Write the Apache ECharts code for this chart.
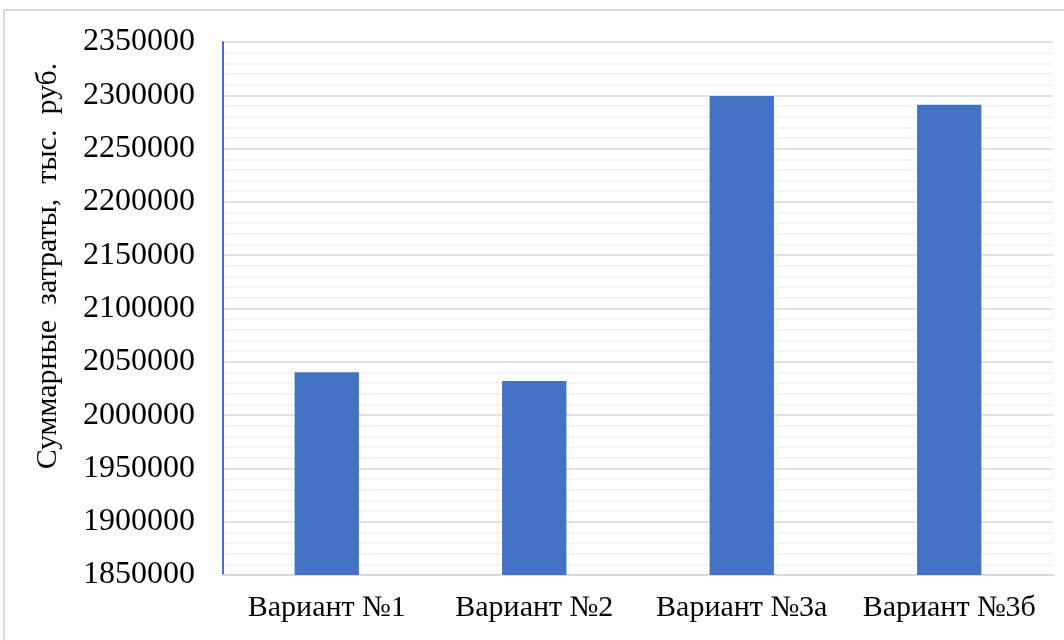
<!DOCTYPE html>
<html>
<head>
<meta charset="utf-8">
<script src="https://cdn.jsdelivr.net/npm/echarts@6/dist/echarts.min.js"></script>
<style>
  html, body { margin: 0; padding: 0; background: #fff; }
  #chart { width: 1064px; height: 640px; }
</style>
</head>
<body>
<div id="chart"></div>
<script>
// варианты и суммарные затраты
const categories = ['Вариант №1', 'Вариант №2', 'Вариант №3а', 'Вариант №3б'];
const costs = [2040300, 2031900, 2299300, 2291200];
const yMin = 1850000;
const yMax = 2350000;
const yStep = 50000;

const font = '"Liberation Serif", "Times New Roman", serif';

const chart = echarts.init(document.getElementById('chart'));

const option = {
  backgroundColor: '#fff',
  animation: false,
  graphic: [
    {
      type: 'rect',
      shape: { x: 4, y: 10, width: 1200, height: 800 },
      style: { fill: 'none', stroke: '#d9d9d9', lineWidth: 2 }
    }
  ],
  grid: {
    left: 223,
    right: 11,
    top: 42,
    bottom: 65
  },
  xAxis: {
    type: 'category',
    data: categories,
    axisLine: { show: true, lineStyle: { color: '#d9d9d9', width: 2 } },
    axisTick: { show: false },
    axisLabel: {
      interval: 0,
      color: '#000',
      fontFamily: font,
      fontSize: 30,
      margin: 18
    }
  },
  yAxis: {
    type: 'value',
    min: yMin,
    max: yMax,
    interval: yStep,
    name: 'Суммарные  затраты,  тыс.  руб.',
    nameLocation: 'middle',
    nameRotate: 90,
    nameGap: 160,
    nameTextStyle: {
      color: '#000',
      fontFamily: font,
      fontSize: 30,
      padding: [0, 0, 0, 85]
    },
    axisLine: { show: true, lineStyle: { color: '#4472C4', width: 2 } },
    axisTick: { show: false },
    axisLabel: {
      color: '#000',
      fontFamily: font,
      fontSize: 32,
      margin: 28,
      formatter: v => String(v)
    },
    splitLine: { lineStyle: { color: '#d9d9d9', width: 1.5 } },
    minorTick: { show: false, splitNumber: 5 },
    minorSplitLine: { show: true, lineStyle: { color: '#f2f2f2', width: 1.5 } }
  },
  series: [
    {
      type: 'bar',
      data: costs,
      barWidth: '31%',
      itemStyle: { color: '#4472C4' }
    }
  ]
};

chart.setOption(option);
</script>
</body>
</html>
